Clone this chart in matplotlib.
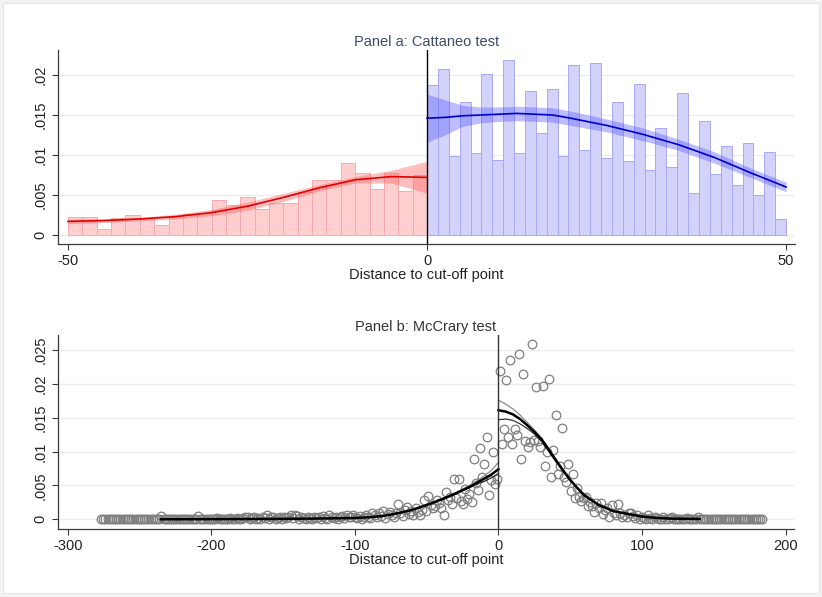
import matplotlib
matplotlib.use("Agg")
import matplotlib.pyplot as plt
from matplotlib.patches import Rectangle

plt.rcParams['font.family'] = ['Liberation Sans', 'DejaVu Sans']
plt.rcParams['font.size'] = 10.5

# ---- Panel a: histogram (bin edges + heights) ----
red_start, red_width = -50, 2.0
red_heights = [0.0022, 0.0022, 0.0008, 0.0021, 0.0025, 0.0021, 0.0013, 0.0024, 0.0026, 0.0027,
               0.0044, 0.0038, 0.0047, 0.0033, 0.0040, 0.0040, 0.0054, 0.0069, 0.0069, 0.0090,
               0.0077, 0.0058, 0.0078, 0.0055, 0.0075]
blue_start, blue_width = 0, 50 / 33
blue_heights = [0.0187, 0.0208, 0.0099, 0.0166, 0.0103, 0.0201, 0.0094, 0.0219, 0.0103, 0.0180,
                0.0127, 0.0183, 0.0099, 0.0212, 0.0106, 0.0215, 0.0096, 0.0166, 0.0092, 0.0189,
                0.0081, 0.0134, 0.0085, 0.0178, 0.0052, 0.0142, 0.0076, 0.0111, 0.0062, 0.0115,
                0.0050, 0.0104, 0.0020]

# density estimates and CI half-widths
red_x = [-50, -45, -40, -35, -30, -25, -20, -15, -10, -5, 0]
red_y = [0.0017, 0.0018, 0.0020, 0.0023, 0.0028, 0.0036, 0.0047, 0.0059, 0.0069, 0.0073, 0.0072]
red_ci = [0.0003, 0.00025, 0.0002, 0.0003, 0.0004, 0.0005, 0.0005, 0.0004, 0.0004, 0.0008, 0.0020]
blue_x = [0, 2.5, 5, 7.5, 10, 12.5, 15, 17.5, 20, 25, 30, 35, 40, 45, 50]
blue_y = [0.0146, 0.0147, 0.0149, 0.0150, 0.0151, 0.0152, 0.0151, 0.0150, 0.0146, 0.0137,
          0.0126, 0.0113, 0.0097, 0.0078, 0.0060]
blue_ci = [0.0030, 0.0022, 0.0013, 0.0010, 0.0009, 0.0009, 0.0009, 0.0009, 0.0009, 0.0008,
           0.0008, 0.0007, 0.0007, 0.0006, 0.0006]

# ---- Panel b: McCrary bins ----
mc_width = 1.5
mc_left_start = -276.75
mc_left_y = ([0] * 28 +
             [0.0005, 0, 0.0001, 0, 0, 0.0001, 0, 0, 0.0001, 0,
              0, 0.0001, 0, 0, 0.0001, 0, 0, 0.0005, 0.0001, 0,
              0, 0.0001, 0, 0.0001, 0, 0, 0.0002, 0, 0.0001, 0,
              0.0001, 0, 0.0002, 0.0001, 0, 0.0002, 0.0001, 0, 0.0002, 0.0003,
              0.0003, 0.0001, 0.0002, 0.0003, 0.0001, 0.0002, 0, 0.0003, 0.0002, 0.0006,
              0.0001, 0.0003, 0.0004, 0.0001, 0.0002, 0.0004, 0.0001, 0.0003, 0.0002, 0.0004,
              0.0006, 0.0002, 0.0007, 0.0005, 0.0001, 0.0003, 0.0002, 0.0001, 0.0003, 0.0002,
              0.0001, 0.0004, 0.0002, 0.0003, 0.0001, 0.0005, 0.0002, 0.0001, 0.0006, 0.0003,
              0.0002, 0.0004, 0.0001, 0.0003, 0.0005, 0.0002, 0.0006, 0.0003, 0.0004, 0.0007,
              0.0004, 0.0002, 0.0005, 0.0001, 0.0003, 0.0007, 0.0004, 0.0002, 0.0010, 0.0006,
              0.0003, 0.0009, 0.0005, 0.0012, 0.0002, 0.0008, 0.0011, 0.0006, 0.0003, 0.0009,
              0.0022, 0.0010, 0.0005, 0.0014, 0.0018, 0.0008, 0.0012, 0.0006, 0.0016, 0.0011,
              0.0006, 0.0014, 0.0029, 0.0012, 0.0035, 0.0021, 0.0017, 0.0019, 0.0028, 0.0024,
              0.0016, 0.0006, 0.0040, 0.0028, 0.0033, 0.0022, 0.0059, 0.0031, 0.0059, 0.0027,
              0.0023, 0.0045, 0.0030, 0.0038, 0.0025, 0.0089, 0.0053, 0.0043, 0.0105, 0.0062,
              0.0081, 0.0121, 0.0036, 0.0058, 0.0100, 0.0052, 0.0059])
mc_right_start = 0.75
mc_right_y = ([0.0219, 0.0111, 0.0133, 0.0206, 0.0121, 0.0235, 0.0111, 0.0133, 0.0124, 0.0244,
               0.0089, 0.0214, 0.0116, 0.0107, 0.0114, 0.0259, 0.0117, 0.0195, 0.0115, 0.0107,
               0.0197, 0.0078, 0.0100, 0.0207, 0.0062, 0.0103, 0.0154, 0.0067, 0.0079, 0.0135,
               0.0063, 0.0055, 0.0081, 0.0042, 0.0067, 0.0031, 0.0046, 0.0033, 0.0027, 0.0031,
               0.0033, 0.0019, 0.0026, 0.0020, 0.0011, 0.0024, 0.0016, 0.0024, 0.0008, 0.0013,
               0.0017, 0.0004, 0.0021, 0.0009, 0.0006, 0.0023, 0.0010, 0.0004, 0.0007, 0.0003,
               0.0009, 0.0010, 0.0005, 0.0002, 0.0006, 0.0001, 0.0004, 0.0002, 0.0001, 0.0006,
               0.0002, 0.0001, 0.0004, 0.0002, 0.0001, 0.0001, 0.0003, 0.0001, 0, 0.0002,
               0.0003, 0.0001, 0, 0.0001, 0, 0.0001, 0, 0.0002, 0, 0.0001,
               0, 0.0001, 0.0003] + [0] * 30)

fit_left_x = [-235, -200, -160, -130, -110, -100, -90, -80, -70, -60, -50, -40, -30, -20, -10, -5, 0]
fit_left_y = [0.0, 0.00002, 0.00005, 0.0001, 0.00015, 0.0002, 0.0003, 0.0005, 0.0009, 0.0014,
              0.0021, 0.0029, 0.0038, 0.0048, 0.0060, 0.0066, 0.0074]
ci_left_x = [-40, -30, -20, -10, -5, 0]
ci_left_hi = [0.0030, 0.0039, 0.0050, 0.0064, 0.0072, 0.0084]
ci_left_lo = [0.0028, 0.0037, 0.0047, 0.0056, 0.0061, 0.0068]
fit_right_x = [0, 5, 10, 15, 20, 25, 30, 35, 40, 45, 50, 55, 60, 70, 80, 90, 100, 110, 120, 140]
fit_right_y = [0.0161, 0.0159, 0.0155, 0.0148, 0.0139, 0.0129, 0.0118, 0.0103, 0.0087, 0.0072,
               0.0058, 0.0046, 0.0035, 0.0021, 0.0012, 0.0008, 0.0004, 0.0002, 0.0001, 0.00005]
ci_right_x = [0, 5, 10, 15, 20, 25, 30, 40, 50, 60]
ci_right_hi = [0.0176, 0.0170, 0.0163, 0.0154, 0.0143, 0.0132, 0.0120, 0.0089, 0.0059, 0.0036]
ci_right_lo = [0.0147, 0.0148, 0.0146, 0.0141, 0.0134, 0.0126, 0.0115, 0.0085, 0.0057, 0.0034]

xticks_a = [-50, 0, 50]
yticks_a = [0, 0.005, 0.01, 0.015, 0.02]
yticklabels_a = ['0', '.005', '.01', '.015', '.02']
xticks_b = [-300, -200, -100, 0, 100, 200]
yticks_b = [0, 0.005, 0.01, 0.015, 0.02, 0.025]
yticklabels_b = ['0', '.005', '.01', '.015', '.02', '.025']

W, H = 822, 597
fig = plt.figure(figsize=(W / 100, H / 100), dpi=100, facecolor='#f3f3f3')
fig.patches.append(Rectangle((3 / W, 4 / H), 816 / W, 590 / H, transform=fig.transFigure,
                             facecolor='white', edgecolor='#e6e6e6', lw=0.8, zorder=-10))

def style(ax, xticks, yticks, ylabels):
    ax.set_facecolor('none')
    for s in ['top', 'right']:
        ax.spines[s].set_visible(False)
    for s in ['left', 'bottom']:
        ax.spines[s].set_color('#3a3a3a')
        ax.spines[s].set_linewidth(0.9)
    ax.set_xticks(xticks)
    ax.set_yticks(yticks)
    ax.set_yticklabels(ylabels, rotation=90, va='center')
    ax.tick_params(length=4.5, width=0.8, color='#3a3a3a', labelcolor='#222222', labelsize=10.5, pad=3)
    for y in yticks:
        ax.axhline(y, color='#ececec', lw=0.9, zorder=0)
    ax.set_xlabel('Distance to cut-off point', fontsize=10.5, color='#222222', labelpad=0)

# ---- Panel a ----
ax1 = fig.add_axes([58 / W, 1 - 244 / H, 737 / W, 194 / H], zorder=1)
red_left = [red_start + i * red_width for i in range(len(red_heights))]
blue_left = [blue_start + i * blue_width for i in range(len(blue_heights))]
ax1.bar(red_left, red_heights, width=red_width, align='edge', color='#ffcfcf',
        edgecolor='#f4aab0', lw=0.7, zorder=2)
ax1.bar(blue_left, blue_heights, width=blue_width, align='edge', color='#d2d2fb',
        edgecolor='#a9a9f2', lw=0.7, zorder=2)
ax1.fill_between(red_x, [a - b for a, b in zip(red_y, red_ci)], [a + b for a, b in zip(red_y, red_ci)],
                 color='#ff5a5a', alpha=0.4, lw=0, zorder=3)
ax1.fill_between(blue_x, [a - b for a, b in zip(blue_y, blue_ci)], [a + b for a, b in zip(blue_y, blue_ci)],
                 color='#5a5aff', alpha=0.4, lw=0, zorder=3)
ax1.plot(red_x, red_y, color='#e00000', lw=1.2, zorder=4)
ax1.plot(blue_x, blue_y, color='#0000c8', lw=1.2, zorder=4)
ax1.axvline(0, color='black', lw=1.0, zorder=5)
ax1.set_xlim(-51.39, 51.25)
ax1.set_ylim(-0.001125, 0.023125)
style(ax1, xticks_a, yticks_a, yticklabels_a)
ax1.set_xticklabels(['-50', '0', '50'])
ax1.set_title('Panel a: Cattaneo test', fontsize=10.5, color='#3d4b68', pad=3)

# ---- Panel b ----
ax2 = fig.add_axes([58 / W, 1 - 528.7 / H, 736 / W, 193.7 / H], zorder=1)
mc_left_x = [mc_left_start + i * mc_width for i in range(len(mc_left_y))]
mc_right_x = [mc_right_start + i * mc_width for i in range(len(mc_right_y))]
ax2.plot(mc_left_x + mc_right_x, mc_left_y + mc_right_y, 'o', ms=6.2, mfc='none',
         mec='#7f7f7f', mew=0.9, zorder=2)
ax2.plot(ci_left_x, ci_left_hi, color='#8a8a8a', lw=0.9, zorder=3)
ax2.plot(ci_left_x, ci_left_lo, color='#222222', lw=0.8, zorder=3)
ax2.plot(ci_right_x, ci_right_hi, color='#8a8a8a', lw=0.9, zorder=3)
ax2.plot(ci_right_x, ci_right_lo, color='#222222', lw=0.8, zorder=3)
ax2.plot(fit_left_x, fit_left_y, color='black', lw=1.8, zorder=4)
ax2.plot(fit_right_x, fit_right_y, color='black', lw=1.8, zorder=4)
ax2.axvline(0, color='#333333', lw=1.0, zorder=5)
ax2.set_xlim(-306.75, 205.8)
ax2.set_ylim(-0.00139, 0.02721)
style(ax2, xticks_b, yticks_b, yticklabels_b)
ax2.set_xticklabels([str(v) for v in xticks_b])
ax2.set_title('Panel b: McCrary test', fontsize=10.5, color='#333333', pad=3)

fig.savefig('out.png', dpi=100, facecolor=fig.get_facecolor())
